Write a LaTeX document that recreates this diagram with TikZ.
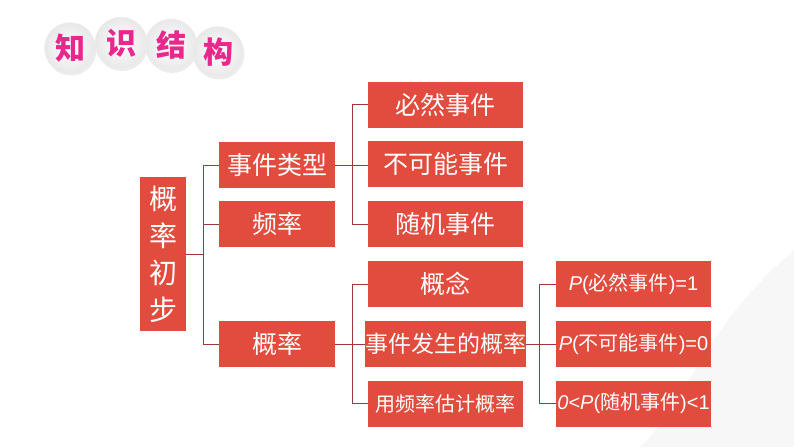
\documentclass[tikz,border=0pt]{standalone}
\usepackage{fontspec}
\setmainfont{Liberation Sans}
\newfontfamily\cjk{Noto Sans CJK SC}
\usetikzlibrary{shadows}
\definecolor{boxred}{RGB}{226,76,62}
\definecolor{linkred}{RGB}{160,56,58}
\definecolor{titlepink}{RGB}{232,40,140}
\newcommand\fs[1]{\fontsize{#1}{#1}\selectfont}
\tikzset{
  box/.style={fill=boxred,text=white,inner sep=0pt,minimum height=46pt,font=\cjk},
  midbox/.style={box,minimum width=116pt},
  leafbox/.style={box,minimum width=155pt},
  link/.style={draw=linkred,line width=1pt},
  ball/.style={circle,minimum size=51pt,inner sep=0pt,shade,inner color=white,
    outer color=black!9,draw=black!6,drop shadow={opacity=0.15,shadow xshift=1pt,shadow yshift=-2pt},
    text=titlepink,font=\cjk\bfseries\fs{30}}
}
\begin{document}
\begin{tikzpicture}[x=1pt,y=-1pt]
\useasboundingbox (0,0) rectangle (794,447);
\fill[black!3] (794,250) .. controls (700,330) and (690,400) .. (640,447) -- (794,447) -- cycle;

% title
\node[ball] (t1) at (70,48) {知};
\node[ball,minimum size=52pt] (t2) at (121,43) {识};
\node[ball,minimum size=52pt] (t3) at (171,45) {结};
\node[ball] (t4) at (218,52) {构};

\node[box,minimum width=46pt,minimum height=154pt,align=center,
  font=\cjk\fontsize{28}{37}\selectfont] (root) at (163,254) {概\\率\\初\\步};

\node[midbox,font=\cjk\fs{25}] (type) at (277,165) {事件类型};
\node[midbox,font=\cjk\fs{25}] (freq) at (277,224) {频率};
\node[midbox,font=\cjk\fs{25}] (prob) at (277,344) {概率};

\node[leafbox,font=\cjk\fs{25}] (sure) at (445.5,104.5) {必然事件};
\node[leafbox,font=\cjk\fs{25}] (imp) at (445.5,164) {不可能事件};
\node[leafbox,font=\cjk\fs{25}] (rand) at (445.5,224) {随机事件};

\node[leafbox,font=\cjk\fs{25}] (idea) at (445.5,284) {概念};
\node[leafbox,font=\cjk\fs{23}] (occur) at (445.5,344) {事件发生的概率};
\node[leafbox,font=\cjk\fs{20}] (est) at (445.5,403.5) {用频率估计概率};

\node[leafbox,font=\fs{20}] (p1) at (633.5,284) {\textit{P}({\cjk 必然事件})=1};
\node[leafbox,font=\fs{20}] (p0) at (633.5,344) {\textit{P}({\cjk 不可能事件})=0};
\node[leafbox,font=\fs{20}] (pr) at (633.5,403.5) {\textit{0<P}({\cjk 随机事件})<1};

% brackets
\coordinate (j1) at (203,254);
\coordinate (j2) at (352,0);
\coordinate (j3) at (539,0);

\draw[link] (root.east) -- (j1);
\draw[link] (type.west) -| (j1 |- prob.west) -- (prob.west);
\draw[link] (j1 |- freq.west) -- (freq.west);

\draw[link] (type.east) -- (type.east -| imp.west);
\draw[link] (sure.west) -| (j2 |- rand.west) -- (rand.west);

\draw[link] (prob.east) -- (occur.west);
\draw[link] (idea.west) -| (j2 |- est.west) -- (est.west);

\draw[link] (occur.east) -- (p0.west);
\draw[link] (p1.west) -| (j3 |- pr.west) -- (pr.west);
\end{tikzpicture}
\end{document}
